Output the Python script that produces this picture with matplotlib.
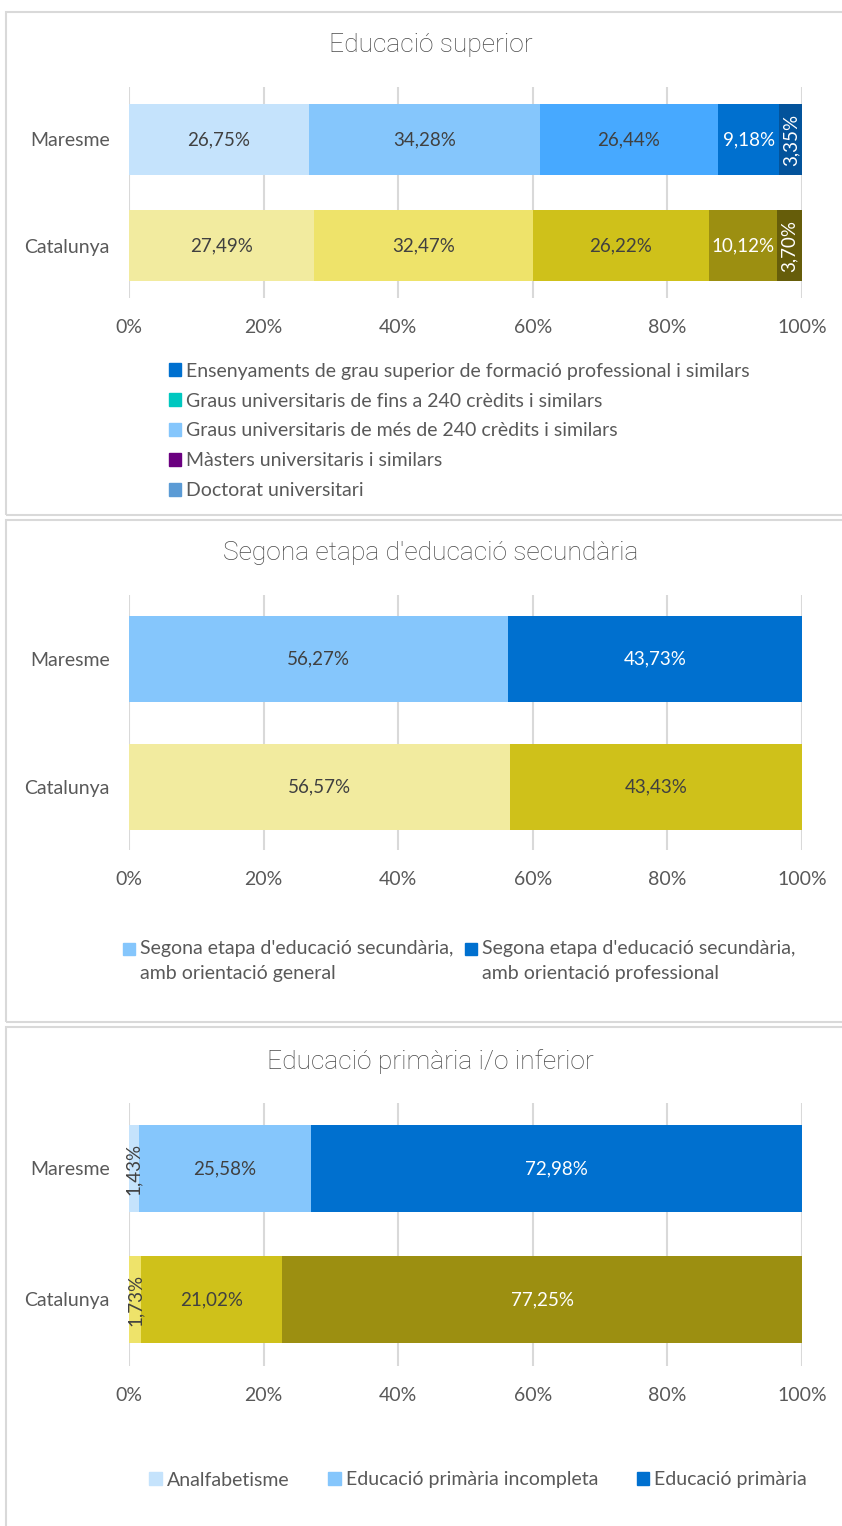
import numpy as np
import matplotlib
matplotlib.use('Agg')
import matplotlib.pyplot as plt
from matplotlib.patches import Rectangle, Patch
from matplotlib.colors import to_rgb

plt.rcParams['font.family'] = ['Lato', 'DejaVu Sans']

# dades
regions = ['Catalunya', 'Maresme']

titol1 = 'Educació superior'
maresme1 = [26.75, 34.28, 26.44, 9.18, 3.35]
catalunya1 = [27.49, 32.47, 26.22, 10.12, 3.70]
llegenda1 = ['Ensenyaments de grau superior de formació professional i similars',
             'Graus universitaris de fins a 240 crèdits i similars',
             'Graus universitaris de més de 240 crèdits i similars',
             'Màsters universitaris i similars',
             'Doctorat universitari']

titol2 = "Segona etapa d'educació secundària"
maresme2 = [56.27, 43.73]
catalunya2 = [56.57, 43.43]
llegenda2 = ["Segona etapa d'educació secundària,\namb orientació general",
             "Segona etapa d'educació secundària,\namb orientació professional"]

titol3 = 'Educació primària i/o inferior'
maresme3 = [1.43, 25.58, 72.98]
catalunya3 = [1.73, 21.02, 77.25]
llegenda3 = ['Analfabetisme', 'Educació primària incompleta', 'Educació primària']

ticks = [0, 20, 40, 60, 80, 100]

# colors
blaus = ['#C5E3FC', '#85C6FC', '#47A9FF', '#0070CF', '#03539B']
grocs = ['#F2EB9F', '#EEE36A', '#CFC11A', '#9C8F11', '#665D0A']
colors_llegenda1 = ['#0070CF', '#00C8C0', '#85C6FC', '#6B0080', '#5B9BD5']

W, H = 842, 1526
fig = plt.figure(figsize=(W / 100, H / 100), dpi=100)

GRIS = '#595959'
FOSC = '#404040'
FS = 14


def fx(px):
    return px / W


def fy(py):
    return 1 - py / H


def es_fosc(c):
    r, g, b = to_rgb(c)
    return 0.299 * r + 0.587 * g + 0.114 * b < 0.55


def panell(y0, y1):
    fig.patches.append(Rectangle((fx(6), fy(y1)), fx(900) - fx(6), fy(y0) - fy(y1),
                                 transform=fig.transFigure, fill=False,
                                 edgecolor='#D9D9D9', linewidth=1.5))


def barres(top, bottom, ylims, alt, valors_m, valors_c, cols_m, cols_c, titol, ty):
    ax = fig.add_axes([fx(129), fy(bottom), fx(802) - fx(129), fy(top) - fy(bottom)])
    ax.set_xlim(0, 100)
    ax.set_ylim(*ylims)
    for i, (vals, cols) in enumerate([(valors_c, cols_c), (valors_m, cols_m)]):
        left = 0
        for v, c in zip(vals, cols):
            ax.barh(i, v, left=left, height=alt, color=c, edgecolor='none', zorder=3)
            txt = '{:.2f}%'.format(v).replace('.', ',')
            tc = 'white' if es_fosc(c) else FOSC
            rot = 90 if v < 5 else 0
            ax.text(left + v / 2, i, txt, ha='center', va='center', color=tc,
                    fontsize=13.5, rotation=rot, zorder=4)
            left += v
    ax.set_xticks(ticks)
    ax.set_xticklabels(['{}%'.format(t) for t in ticks], fontsize=FS, color=GRIS)
    ax.set_yticks([0, 1])
    ax.set_yticklabels(regions, fontsize=FS, color=GRIS)
    ax.tick_params(length=0, pad=15)
    ax.tick_params(axis='y', pad=14)
    ax.grid(axis='x', color='#D9D9D9', linewidth=1.5, zorder=0)
    for s in ax.spines.values():
        s.set_visible(False)
    fig.text(fx(430.5), fy(ty), titol, ha='center', va='center', fontsize=19,
             color='#4A4A4A', family=['Roboto', 'DejaVu Sans'], fontweight='light')
    return ax


panell(12, 515)
panell(520, 1022)
panell(1027, 1600)

barres(87, 298, (-0.495, 1.495), 0.67, maresme1, catalunya1, blaus, grocs, titol1, 45)
barres(595, 850, (-0.49, 1.5), 0.67, maresme2, catalunya2,
       [blaus[1], blaus[3]], [grocs[0], grocs[2]], titol2, 553)
barres(1103, 1366, (-0.508, 1.5), 0.664, maresme3, catalunya3,
       [blaus[0], blaus[1], blaus[3]], [grocs[1], grocs[2], grocs[3]], titol3, 1062)

# llegenda 1
h1 = [Patch(color=c) for c in colors_llegenda1]
fig.legend(h1, llegenda1, loc='upper left', bbox_to_anchor=(fx(159), fy(353)),
           frameon=False, fontsize=FS, labelcolor=GRIS, handlelength=0.65,
           handleheight=0.65, handletextpad=0.25, labelspacing=0.66, borderpad=0)

# llegenda 2 (text en dues línies, quadre alineat amb la primera)
for xq, c, lab in zip([123, 465], [blaus[1], blaus[3]], llegenda2):
    fig.patches.append(Rectangle((fx(xq), fy(955)), fx(12), fy(943) - fy(955),
                                 transform=fig.transFigure, color=c))
    fig.text(fx(xq + 17), fy(940), lab, ha='left', va='top', fontsize=FS,
             color=GRIS, linespacing=1.6, transform=fig.transFigure)

# llegenda 3
h3 = [Patch(color=blaus[0]), Patch(color=blaus[1]), Patch(color=blaus[3])]
fig.legend(h3, llegenda3, loc='center', bbox_to_anchor=(fx(478), fy(1480)),
           frameon=False, fontsize=FS, labelcolor=GRIS, ncol=3, handlelength=0.65,
           handleheight=0.65, handletextpad=0.25, columnspacing=2.0, borderpad=0)

fig.savefig('out.png', dpi=100)
